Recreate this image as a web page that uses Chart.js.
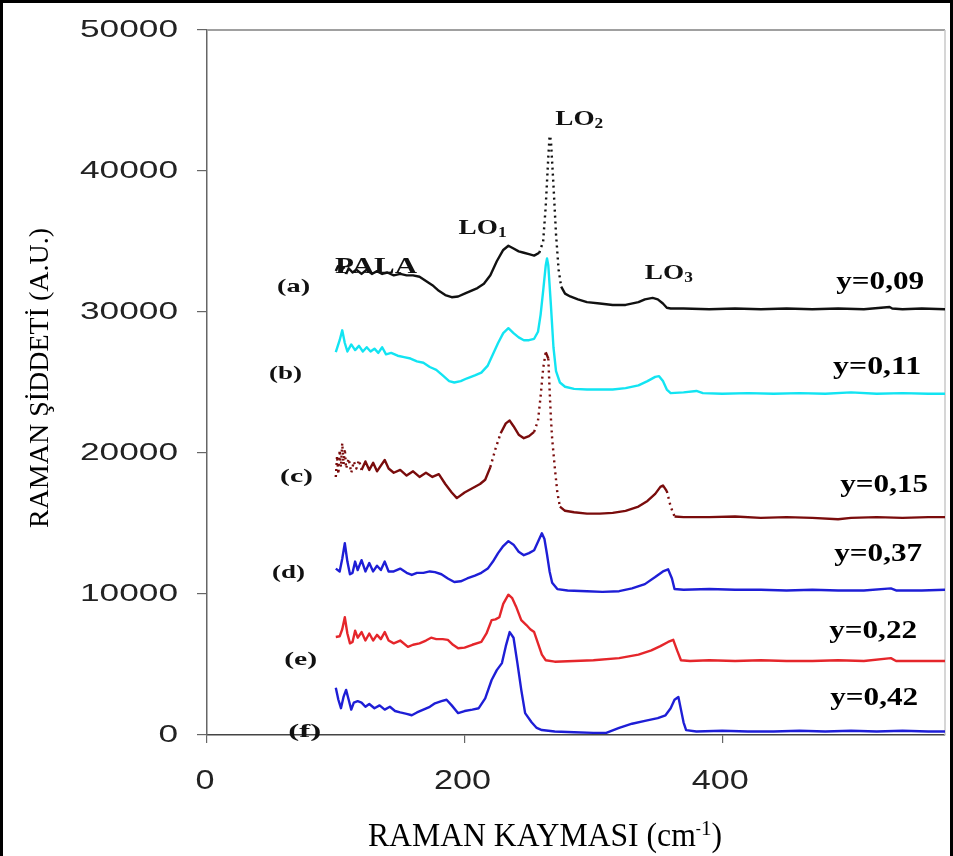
<!DOCTYPE html>
<html lang="tr">
<head>
<meta charset="UTF-8">
<title>Raman spektrumları</title>
<style>
  html, body { margin: 0; padding: 0; background: #fff; }
  #wrap { width: 953px; height: 856px; }
</style>
</head>
<body>
<div id="wrap"><canvas id="raman" width="953" height="856"></canvas></div>

<script src="https://cdn.jsdelivr.net/npm/chart.js"></script>
<script>
// tick values
const xTickVals = [0, 200, 400];
const yTickVals = [0, 10000, 20000, 30000, 40000, 50000];

// (a) y=0,09
const xA = [100,102,104,106,108,110,113,116,120,124,128,132,136,140,145,150,155,160,165,170,175,180,185,190,195,200,205,210,215,220,225,230,234,238,242,246,250,254,258,261,263,265,266,267,269,271,273,275,278,282,288,295,305,315,325,335,340,346,350,354,357,360,370,390,410,430,450,470,490,510,530,532,540,555,573];
const yA = [32900,33300,32800,33200,32700,33100,32800,33000,32700,33000,32700,32900,32700,32800,32600,32700,32600,32600,32500,32200,31900,31500,31200,31050,31100,31300,31500,31700,32000,32600,33600,34400,34700,34500,34300,34200,34100,34000,34200,35000,37500,41000,42500,42200,39000,35500,33000,31800,31300,31100,30900,30700,30600,30500,30500,30700,30900,31000,30900,30600,30300,30250,30250,30200,30250,30200,30250,30200,30250,30200,30350,30250,30200,30250,30200];

// (b) y=0,11
const xB = [100,103,105,107,109,112,115,118,121,124,127,130,133,136,139,143,148,153,158,163,168,173,178,183,188,192,197,202,208,213,218,222,226,230,234,238,242,246,250,254,257,259,261,263,264,265,267,269,271,274,278,285,295,305,315,325,335,342,348,351,354,357,360,370,380,385,400,420,440,460,480,500,520,540,560,573];
const yB = [27150,28000,28700,27800,27200,27700,27300,27600,27200,27500,27200,27400,27100,27500,27000,27100,26900,26800,26700,26500,26400,26100,25900,25500,25100,25000,25100,25300,25500,25700,26200,27000,27800,28500,28850,28500,28200,28000,28000,28100,28600,29800,31500,33300,33800,33300,30500,27500,25800,25000,24700,24550,24500,24500,24500,24600,24800,25100,25400,25450,25100,24500,24250,24300,24400,24250,24200,24250,24200,24250,24200,24300,24200,24250,24200,24200];

// (c) y=0,15
const xC = [100,101,102,103,104,105,106,107,108,110,112,114,116,118,120,123,126,129,132,135,138,141,145,150,155,160,165,170,175,180,185,190,194,200,206,212,216,220,224,228,232,235,238,242,246,250,254,257,259,261,263,265,266,267,268,270,272,274,278,285,295,305,315,325,335,342,348,352,354,357,360,363,370,390,410,430,450,470,490,500,520,540,560,573];
const yC = [18300,19800,18500,20200,19000,20700,19200,20300,18900,19600,18600,19400,18900,19500,18800,19400,18800,19300,18700,19100,19500,18900,18600,18800,18400,18700,18300,18600,18300,18500,17800,17200,16800,17200,17500,17800,18100,19000,20300,21400,22100,22300,21900,21300,21050,21200,21500,22300,24000,26000,27150,26700,24500,22500,21000,19000,17200,16200,15900,15800,15700,15700,15750,15900,16200,16600,17100,17600,17700,17300,16200,15500,15450,15450,15500,15400,15450,15400,15300,15400,15450,15400,15450,15450];

// (d) y=0,37
const xD = [100,103,105,107,109,111,113,115,117,120,123,126,129,132,135,138,141,145,150,155,159,163,168,173,177,182,187,192,197,202,208,213,218,222,226,230,234,238,242,246,250,254,257,260,262,264,266,268,272,280,295,307,320,330,340,348,354,358,361,363,370,390,410,430,450,470,490,510,531,535,555,573];
const yD = [11800,11600,12500,13600,12300,11400,11500,12300,11700,12400,11600,12200,11600,12000,11700,12300,11600,11600,11800,11500,11350,11500,11500,11600,11550,11400,11100,10850,10900,11100,11300,11500,11800,12300,12900,13400,13750,13500,13000,12750,12900,13100,13700,14300,13900,12800,11600,10800,10350,10250,10200,10150,10200,10400,10700,11200,11600,11750,11100,10350,10300,10350,10300,10300,10250,10300,10250,10250,10400,10250,10250,10300];

// (e) y=0,22
const xE = [100,103,105,107,109,111,113,115,117,120,123,126,129,132,135,138,141,145,150,156,160,165,170,174,178,183,187,191,195,200,206,213,217,221,224,227,230,234,237,240,244,248,251,254,257,260,263,270,285,300,320,335,345,352,358,362,365,368,375,390,410,430,450,470,490,510,531,535,555,573];
const yE = [6950,7000,7500,8350,7200,6500,6600,7400,6900,7300,6700,7200,6700,7100,6800,7300,6700,6500,6700,6250,6400,6500,6700,6900,6800,6800,6750,6400,6150,6200,6400,6600,7200,8150,8200,8350,9300,9950,9700,9100,8150,7800,7500,7300,6500,5700,5300,5200,5250,5300,5450,5700,6000,6300,6600,6750,6000,5300,5250,5300,5250,5300,5250,5250,5300,5250,5450,5250,5250,5250];

// (f) y=0,42
const xF = [100,102,104,106,108,110,112,114,117,120,123,126,130,134,138,142,146,150,155,159,163,168,173,177,182,186,190,195,200,206,211,216,221,225,229,232,235,238,241,244,247,252,256,260,270,285,300,310,320,330,340,350,356,360,363,366,368,370,372,380,400,420,440,460,480,500,520,540,560,573];
const yF = [3350,2500,1900,2700,3200,2500,1800,2300,2400,2300,2000,2200,1900,2100,1800,2000,1700,1600,1500,1400,1600,1800,2000,2250,2400,2500,2100,1550,1700,1800,1900,2600,3900,4600,5100,6300,7300,6900,5100,3200,1550,900,500,350,250,200,150,150,500,800,1000,1200,1400,1900,2500,2700,1800,900,350,250,300,250,250,300,250,300,250,300,250,250];

const seriesLabels = ['(a)', '(b)', '(c)', '(d)', '(e)', '(f)'];
const compLabels = ['y=0,09', 'y=0,11', 'y=0,15', 'y=0,37', 'y=0,22', 'y=0,42'];

function pts(xs, ys) {
  return xs.map((x, i) => ({ x: x, y: ys[i] }));
}

// dotted look on steep parts (markers drawn apart in the original)
const steepDash = ctx => {
  const dx = Math.abs(ctx.p1.x - ctx.p0.x), dy = Math.abs(ctx.p1.y - ctx.p0.y);
  return dy > 2.5 * dx ? [2, 4] : undefined;
};

function ds(label, xs, ys, color, dotted) {
  const d = {
    label: label,
    data: pts(xs, ys),
    borderColor: color,
    borderWidth: 2.4,
    pointRadius: 0,
    tension: 0,
    fill: false,
    borderJoinStyle: 'round'
  };
  if (dotted) d.segment = { borderDash: steepDash };
  return d;
}

// text helper: parts [{t, size, dy}], scaled horizontally to a width or by sx
function drawRich(ctx, parts, x, y, o) {
  ctx.save();
  ctx.translate(x, y);
  if (o.rotate) ctx.rotate(o.rotate);
  let total = 0;
  const ws = parts.map(p => {
    ctx.font = (o.weight || 'normal') + ' ' + p.size + 'px ' + o.family;
    const w = ctx.measureText(p.t).width;
    total += w;
    return w;
  });
  const sx = o.width ? o.width / total : (o.sx || 1);
  ctx.scale(sx, 1);
  let cx = o.align === 'right' ? -total : o.align === 'left' ? 0 : -total / 2;
  ctx.fillStyle = o.color || '#000';
  ctx.textBaseline = o.baseline || 'alphabetic';
  ctx.textAlign = 'left';
  parts.forEach((p, i) => {
    ctx.font = (o.weight || 'normal') + ' ' + p.size + 'px ' + o.family;
    ctx.fillText(p.t, cx, p.dy || 0);
    cx += ws[i];
  });
  ctx.restore();
}

const SERIF = '"Liberation Serif", "Times New Roman", serif';
const SANS = '"Liberation Sans", Arial, sans-serif';

const textPlugin = {
  id: 'ramanTexts',
  beforeDraw(chart) {
    const c = chart.ctx;
    c.save();
    c.fillStyle = '#fff';
    c.fillRect(0, 0, chart.width, chart.height);
    c.restore();
  },
  beforeDatasetsDraw(chart) {
    const c = chart.ctx, a = chart.chartArea;
    c.save();
    c.strokeStyle = '#a0a0a0';
    c.lineWidth = 2;
    c.beginPath();
    c.moveTo(a.left, a.top);
    c.lineTo(a.right, a.top);
    c.stroke();
    c.strokeStyle = '#c8c8c8';
    c.lineWidth = 1.5;
    c.beginPath();
    c.moveTo(a.right, a.top);
    c.lineTo(a.right, a.bottom);
    c.stroke();
    c.restore();
  },
  afterDraw(chart) {
    const c = chart.ctx;
    const xs = chart.scales.x, ys = chart.scales.y;

    // outer frame
    c.save();
    c.strokeStyle = '#000';
    c.lineWidth = 3;
    c.beginPath();
    c.moveTo(1.5, chart.height);
    c.lineTo(1.5, 1.5);
    c.lineTo(chart.width - 1.5, 1.5);
    c.lineTo(chart.width - 1.5, chart.height);
    c.stroke();
    c.restore();

    // tick labels
    ys.ticks.forEach(t => {
      const s = String(t.value);
      drawRich(c, [{ t: s, size: 23 }], 178, ys.getPixelForValue(t.value) + 1,
        { family: SANS, align: 'right', baseline: 'middle', width: 19.6 * s.length, color: '#222' });
    });
    xs.ticks.forEach(t => {
      const s = String(t.value);
      drawRich(c, [{ t: s, size: 28 }], xs.getPixelForValue(t.value) - 2, 781,
        { family: SANS, align: 'center', baseline: 'middle', width: 19 * s.length, color: '#222' });
    });

    // axis titles
    drawRich(c, [{ t: 'RAMAN KAYMASI (cm', size: 33 }, { t: '-', size: 16, dy: -12 }, { t: '1', size: 22, dy: -11 }, { t: ')', size: 33 }],
      545, 846, { family: SERIF, align: 'center', width: 354 });
    drawRich(c, [{ t: 'RAMAN ŞİDDETİ (A.U.)', size: 28 }], 48, 378,
      { family: SERIF, align: 'center', rotate: -Math.PI / 2, width: 300 });

    const px = v => xs.getPixelForValue(v);
    const py = v => ys.getPixelForValue(v);

    // series letters
    const letterPos = [[67.2, 31770], [60.9, 25600], [69.5, 18300], [63.3, 11490], [72.7, 5320], [75.8, 210]];
    seriesLabels.forEach((s, i) => {
      drawRich(c, [{ t: s, size: 19 }], px(letterPos[i][0]), py(letterPos[i][1]),
        { family: SERIF, weight: 'bold', align: 'center', baseline: 'middle', width: 33, color: '#111' });
    });

    // composition labels
    const compPos = [[522.7, 31630], [520.3, 25600], [525.8, 17230], [521.1, 12340], [517.2, 6880], [518, 2130]];
    compLabels.forEach((s, i) => {
      drawRich(c, [{ t: s, size: 26 }], px(compPos[i][0]), py(compPos[i][1]),
        { family: SERIF, weight: 'bold', align: 'center', width: 88, color: '#000' });
    });

    // mode labels
    drawRich(c, [{ t: 'PALA', size: 23 }], px(131.3), py(32770),
      { family: SERIF, weight: 'bold', align: 'center', width: 82, color: '#111' });
    [['1', 214, 35530], ['2', 289, 43260], ['3', 358.6, 32340]].forEach(m => {
      drawRich(c, [{ t: 'LO', size: 22 }, { t: m[0], size: 14, dy: 3 }], px(m[1]), py(m[2]),
        { family: SERIF, weight: 'bold', align: 'center', width: 48, color: '#111' });
    });
  }
};

const ctx = document.getElementById('raman').getContext('2d');
new Chart(ctx, {
  type: 'line',
  data: {
    datasets: [
      ds(compLabels[0], xA, yA, '#111111', true),
      ds(compLabels[1], xB, yB, '#12e4f2', false),
      ds(compLabels[2], xC, yC, '#7a0c0c', true),
      ds(compLabels[3], xD, yD, '#1e1ed6', false),
      ds(compLabels[4], xE, yE, '#e5262b', false),
      ds(compLabels[5], xF, yF, '#1e1ed6', false)
    ]
  },
  options: {
    responsive: false,
    animation: false,
    devicePixelRatio: 1,
    layout: { padding: { top: 30, right: 8, left: 0, bottom: 0 } },
    plugins: {
      legend: { display: false },
      tooltip: { enabled: false }
    },
    scales: {
      x: {
        type: 'linear',
        min: 0,
        max: 573,
        afterBuildTicks: s => { s.ticks = xTickVals.map(v => ({ value: v })); },
        afterFit: s => { s.height = 121; },
        ticks: { display: false },
        grid: { drawOnChartArea: false, drawTicks: true, tickLength: 8, color: '#666', lineWidth: 1.2 },
        border: { display: true, color: '#444', width: 1.5 }
      },
      y: {
        type: 'linear',
        min: 0,
        max: 50000,
        afterBuildTicks: s => { s.ticks = yTickVals.map(v => ({ value: v })); },
        afterFit: s => { s.width = 207; },
        ticks: { display: false },
        grid: { drawOnChartArea: false, drawTicks: true, tickLength: 10, color: '#666', lineWidth: 1.2 },
        border: { display: true, color: '#666', width: 1.5 }
      }
    }
  },
  plugins: [textPlugin]
});
</script>
</body>
</html>
